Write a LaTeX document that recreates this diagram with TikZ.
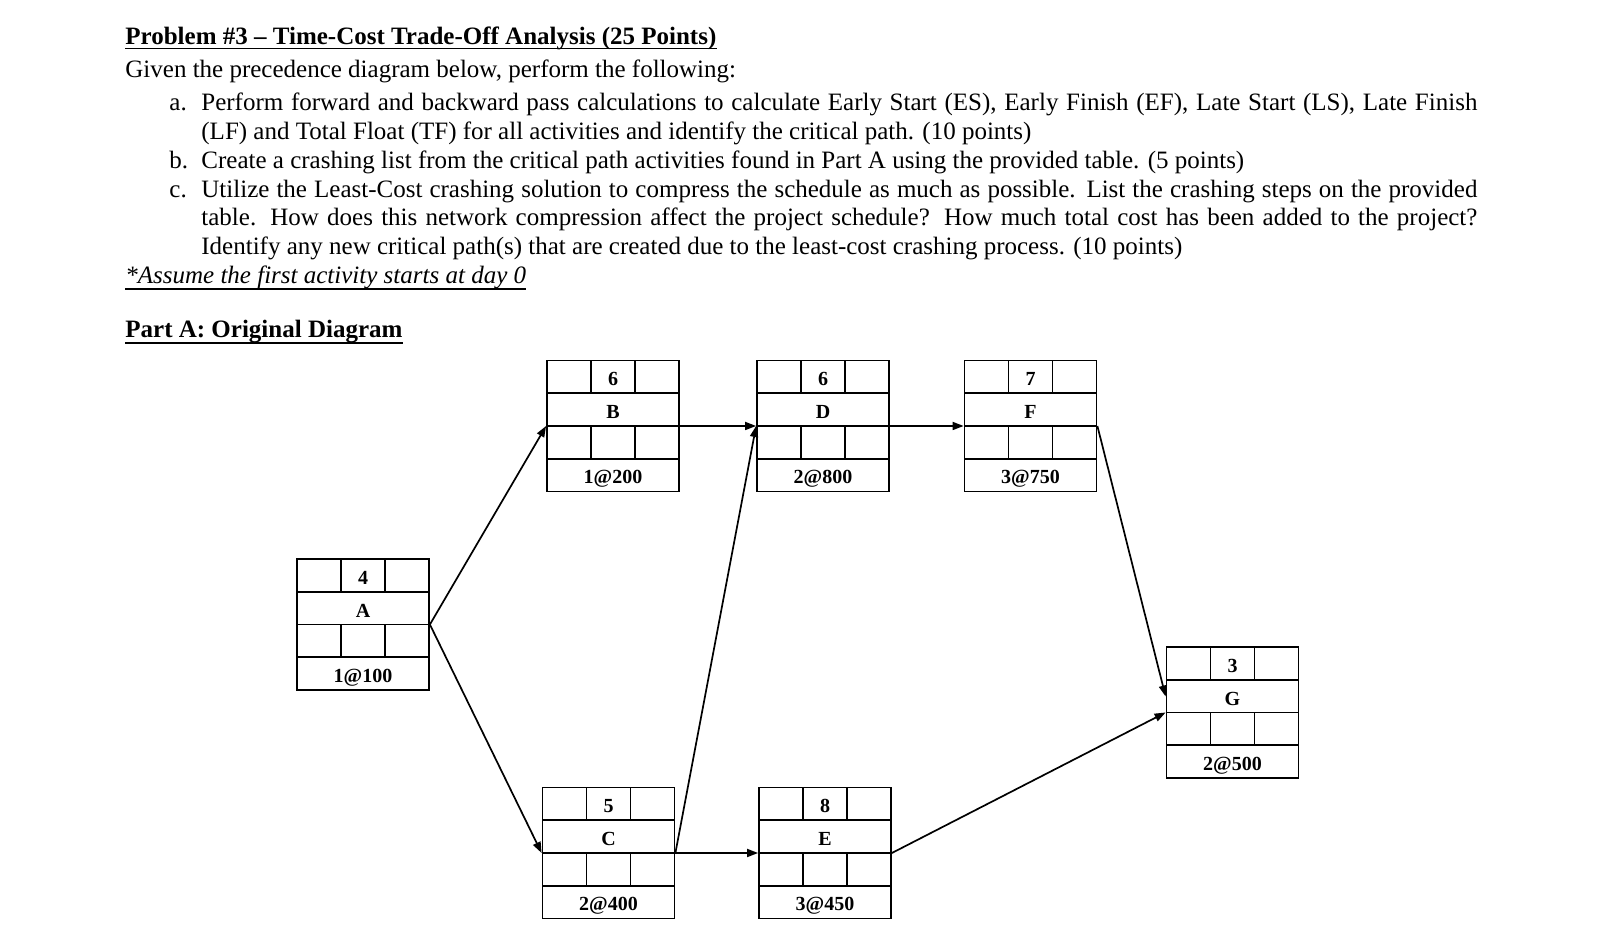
\documentclass[tikz,border=0pt]{standalone}
\usepackage{fontspec}
\setmainfont{Liberation Serif}
\usetikzlibrary{calc,arrows.meta}
\tikzset{
  actbox/.style={draw, line width=0.9pt, minimum width=66pt, minimum height=65.5pt, inner sep=0pt},
  boxline/.style={line width=0.9pt},
  boxtxt/.style={inner sep=0pt, anchor=base, font=\fontsize{10}{11}\selectfont\bfseries},
  conn/.style={line width=0.85pt, -{Triangle[length=5.5pt,width=4pt]}},
  txt/.style={inner sep=0pt, anchor=base west, font=\fontsize{12.5}{14}\selectfont},
  uline/.style={line width=0.6pt},
}
\newcommand{\actnode}[6]{%
  \node[actbox] (#1) at (#2,#3) {};
  \draw[boxline] ($(#1.center)+(-66,-32.75)$) -- ($(#1.center)+(66,-32.75)$);
  \draw[boxline] ($(#1.center)+(-66,0)$) -- ($(#1.center)+(66,0)$);
  \draw[boxline] ($(#1.center)+(-66,32.75)$) -- ($(#1.center)+(66,32.75)$);
  \draw[boxline] ($(#1.center)+(-22,-65.5)$) -- ($(#1.center)+(-22,-32.75)$);
  \draw[boxline] ($(#1.center)+(22,-65.5)$) -- ($(#1.center)+(22,-32.75)$);
  \draw[boxline] ($(#1.center)+(-22,0)$) -- ($(#1.center)+(-22,32.75)$);
  \draw[boxline] ($(#1.center)+(22,0)$) -- ($(#1.center)+(22,32.75)$);
  \node[boxtxt] (#1-dur) at ($(#1.center)+(0,-40)$) {#4};
  \node[boxtxt] (#1-name) at ($(#1.center)+(0,-7.4)$) {#5};
  \node[boxtxt] (#1-cost) at ($(#1.center)+(0,58)$) {#6};
}
\begin{document}
\begin{tikzpicture}[x=0.5pt,y=-0.5pt]
\useasboundingbox (0,0) rectangle (1618,945);
% header text
\node[txt, font=\fontsize{12.5}{14}\selectfont\bfseries] (title) at (125,44.6) {Problem \#3 \textendash{} Time-Cost Trade-Off Analysis (25 Points)};
\draw[uline] ($(title.base west)+(0,4)$) -- ($(title.base east)+(0,4)$);
\node[txt] (given) at (125,78) {Given the precedence diagram below, perform the following:};
\node[txt] (la) at (169,110.5) {a.};
\node[txt] (a1) at (201,110.5) {\makebox[638pt][s]{Perform forward and backward pass calculations to calculate Early Start (ES), Early Finish (EF), Late Start (LS), Late Finish}};
\node[txt] (a2) at (201,139.5) {(LF) and Total Float (TF) for all activities and identify the critical path. (10 points)};
\node[txt] (lb) at (169,168.3) {b.};
\node[txt] (b1) at (201,168.3) {Create a crashing list from the critical path activities found in Part A using the provided table. (5 points)};
\node[txt] (lc) at (169,197.2) {c.};
\node[txt] (c1) at (201,197.2) {\makebox[638pt][s]{Utilize the Least-Cost crashing solution to compress the schedule as much as possible. List the crashing steps on the provided}};
\node[txt] (c2) at (201,226) {\makebox[638pt][s]{table. How does this network compression affect the project schedule? How much total cost has been added to the project?}};
\node[txt] (c3) at (201,255) {Identify any new critical path(s) that are created due to the least-cost crashing process. (10 points)};
\node[txt, font=\fontsize{12.5}{14}\selectfont\itshape] (assume) at (125,284) {*Assume the first activity starts at day 0};
\draw[uline] ($(assume.base west)+(0,5)$) -- ($(assume.base east)+(0,5)$);
\node[txt, font=\fontsize{12.5}{14}\selectfont\bfseries] (parta) at (125,338) {Part A: Original Diagram};
\draw[uline] ($(parta.base west)+(0,5)$) -- ($(parta.base east)+(0,5)$);
% activities
\actnode{A}{363}{624.5}{4}{A}{1@100}
\actnode{B}{613}{426}{6}{B}{1@200}
\actnode{D}{823}{426}{6}{D}{2@800}
\actnode{F}{1030.5}{426}{7}{F}{3@750}
\actnode{C}{608.5}{853}{5}{C}{2@400}
\actnode{E}{825}{853}{8}{E}{3@450}
\actnode{G}{1232.5}{712.5}{3}{G}{2@500}
% connectors
\draw[conn] (A.east) -- (B.west);
\draw[conn] (A.east) -- (C.west);
\draw[conn] (B.east) -- (D.west);
\draw[conn] (C.east) -- (D.west);
\draw[conn] (C.east) -- (E.west);
\draw[conn] (D.east) -- (F.west);
\draw[conn] (F.east) -- ($(G.west)+(0,-16)$);
\draw[conn] (E.east) -- (G.west);
\end{tikzpicture}
\end{document}
